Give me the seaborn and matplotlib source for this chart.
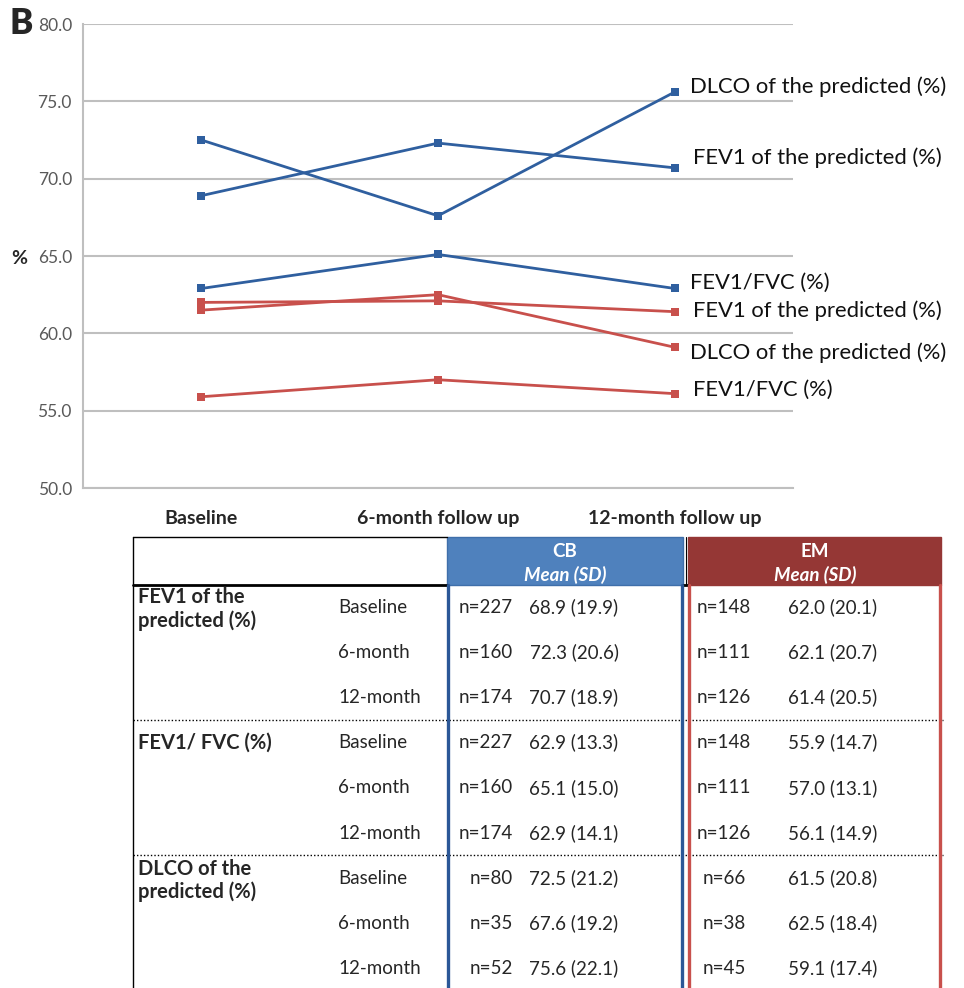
import pandas as pd
import matplotlib.pyplot as plt
import matplotlib.patches as mpatches
import seaborn as sns

# --- datos ---
time_points = ['Baseline', '6-month follow up', '12-month follow up']
time_short = ['Baseline', '6-month', '12-month']

cb_fev1 = [68.9, 72.3, 70.7]
cb_fvc = [62.9, 65.1, 62.9]
cb_dlco = [72.5, 67.6, 75.6]
em_fev1 = [62.0, 62.1, 61.4]
em_fvc = [55.9, 57.0, 56.1]
em_dlco = [61.5, 62.5, 59.1]

cb_fev1_sd = [19.9, 20.6, 18.9]
cb_fvc_sd = [13.3, 15.0, 14.1]
cb_dlco_sd = [21.2, 19.2, 22.1]
em_fev1_sd = [20.1, 20.7, 20.5]
em_fvc_sd = [14.7, 13.1, 14.9]
em_dlco_sd = [20.8, 18.4, 17.4]

cb_fev1_n = [227, 160, 174]
cb_fvc_n = [227, 160, 174]
cb_dlco_n = [80, 35, 52]
em_fev1_n = [148, 111, 126]
em_fvc_n = [148, 111, 126]
em_dlco_n = [66, 38, 45]

BLUE = '#2F5F9F'
RED = '#C8504C'

series = {
    'CB DLCO': (cb_dlco, BLUE, 'DLCO of the predicted (%)', (15, 5)),
    'CB FEV1': (cb_fev1, BLUE, 'FEV1 of the predicted (%)', (18, 10)),
    'CB FVC': (cb_fvc, BLUE, 'FEV1/FVC (%)', (15, 6)),
    'EM FEV1': (em_fev1, RED, 'FEV1 of the predicted (%)', (18, 1)),
    'EM DLCO': (em_dlco, RED, 'DLCO of the predicted (%)', (15, -5)),
    'EM FVC': (em_fvc, RED, 'FEV1/FVC (%)', (18, 4)),
}

rows = []
for name, (vals, _, _, _) in series.items():
    for t, v in zip(time_points, vals):
        rows.append({'time': t, 'value': v, 'series': name})
df = pd.DataFrame(rows)

sns.set_style('white')
plt.rcParams['font.family'] = ['Lato', 'DejaVu Sans']

W, H = 964, 988
fig = plt.figure(figsize=(W / 100, H / 100), dpi=100)
ax = fig.add_axes([83 / W, 1 - 488 / H, 710 / W, 464 / H])

sns.lineplot(data=df, x='time', y='value', hue='series',
             palette={k: v[1] for k, v in series.items()},
             marker='s', markersize=6, markeredgewidth=0, linewidth=2,
             sort=False, legend=False, ax=ax)

ax.set_xlim(-0.5, 2.5)
ax.set_ylim(50, 80)
ax.set_yticks([50, 55, 60, 65, 70, 75, 80])
ax.set_yticklabels([f'{v:.1f}' for v in [50, 55, 60, 65, 70, 75, 80]],
                   color='#595959', fontsize=12.5)
ax.yaxis.grid(True, color='#BFBFBF', linewidth=1.5)
ax.set_axisbelow(True)
ax.set_xticks([-0.5, 0.5, 1.5, 2.5])
ax.set_xticklabels([])
ax.set_xticks([0, 1, 2], minor=True)
ax.set_xticklabels(time_points, minor=True, fontsize=14, fontweight='bold')
ax.tick_params(axis='x', which='major', length=6, color='#BFBFBF', width=1.5)
ax.tick_params(axis='x', which='minor', length=0, pad=16)
ax.tick_params(axis='y', length=5, color='#BFBFBF', width=1.5, pad=3)
ax.set_xlabel('')
ax.set_ylabel('')
for s in ['top', 'right']:
    ax.spines[s].set_visible(False)
for s in ['left', 'bottom']:
    ax.spines[s].set_color('#BFBFBF')
    ax.spines[s].set_linewidth(1.5)

for name, (vals, color, label, off) in series.items():
    ax.annotate(label, xy=(2, vals[-1]), xytext=off, textcoords='offset pixels',
                ha='left', va='center', fontsize=15.8, color='#111111',
                annotation_clip=False)

# --- capa superior en pixeles para la tabla ---
ov = fig.add_axes([0, 0, 1, 1], facecolor='none')
ov.set_xlim(0, W)
ov.set_ylim(H, 0)
ov.axis('off')

ov.text(9, 23, 'B', fontsize=25, fontweight='heavy', va='center', ha='left')
ov.text(11, 258, '%', fontsize=14, fontweight='bold', va='center', ha='left')

# lineas de la tabla
ov.plot([133, 447], [537, 537], color='black', lw=1)
ov.plot([133, 133], [537, 990], color='black', lw=1)
ov.plot([133, 447], [585, 585], color='black', lw=2)
ov.plot([683, 688], [585, 585], color='black', lw=2)
ov.plot([685.5, 685.5], [537, 585], color='black', lw=0.8)
for yy in [720, 855]:
    ov.plot([133, 943], [yy, yy], color='black', lw=1, linestyle=(0, (1, 1.5)))

ov.add_patch(mpatches.Rectangle((447, 537), 236, 48, facecolor='#4F81BD',
                                edgecolor='#3F6FAA', lw=1))
ov.add_patch(mpatches.Rectangle((688, 537), 253, 48, facecolor='#953735',
                                edgecolor='#953735', lw=1))
for xx in [448, 682]:
    ov.plot([xx, xx], [585, 990], color='#2B5797', lw=2.4)
for xx in [689, 940]:
    ov.plot([xx, xx], [585, 990], color='#C8504C', lw=2.4)

FS = 13.5
ov.text(565, 551, 'CB', color='white', fontsize=FS, fontweight='bold', ha='center', va='center')
ov.text(565, 575, 'Mean (SD)', color='white', fontsize=FS, fontweight='bold',
        style='italic', ha='center', va='center')
ov.text(815, 551, 'EM', color='white', fontsize=FS, fontweight='bold', ha='center', va='center')
ov.text(815, 575, 'Mean (SD)', color='white', fontsize=FS, fontweight='bold',
        style='italic', ha='center', va='center')

groups = [
    ('FEV1 of the\npredicted (%)', cb_fev1, cb_fev1_sd, cb_fev1_n, em_fev1, em_fev1_sd, em_fev1_n),
    ('FEV1/ FVC (%)', cb_fvc, cb_fvc_sd, cb_fvc_n, em_fvc, em_fvc_sd, em_fvc_n),
    ('DLCO of the\npredicted (%)', cb_dlco, cb_dlco_sd, cb_dlco_n, em_dlco, em_dlco_sd, em_dlco_n),
]
y0 = 607
step = 45.2
for g, (gname, cm, csd, cn, em, esd, en) in enumerate(groups):
    base = y0 + g * 3 * step
    if '\n' in gname:
        ov.text(138, base + 2, gname, fontsize=14.5, fontweight='bold', ha='left',
                va='center', linespacing=1.15)
    else:
        ov.text(138, base, gname, fontsize=14.5, fontweight='bold', ha='left', va='center')
    for i in range(3):
        yy = base + i * step
        ov.text(338, yy, time_short[i], fontsize=FS, ha='left', va='center')
        ov.text(513, yy, f'n={cn[i]}', fontsize=FS, ha='right', va='center')
        ov.text(574, yy, f'{cm[i]:.1f} ({csd[i]:.1f})', fontsize=FS, ha='center', va='center')
        ov.text(724, yy, f'n={en[i]}', fontsize=FS, ha='center', va='center')
        ov.text(833, yy, f'{em[i]:.1f} ({esd[i]:.1f})', fontsize=FS, ha='center', va='center')

fig.savefig('out.png', dpi=100)
